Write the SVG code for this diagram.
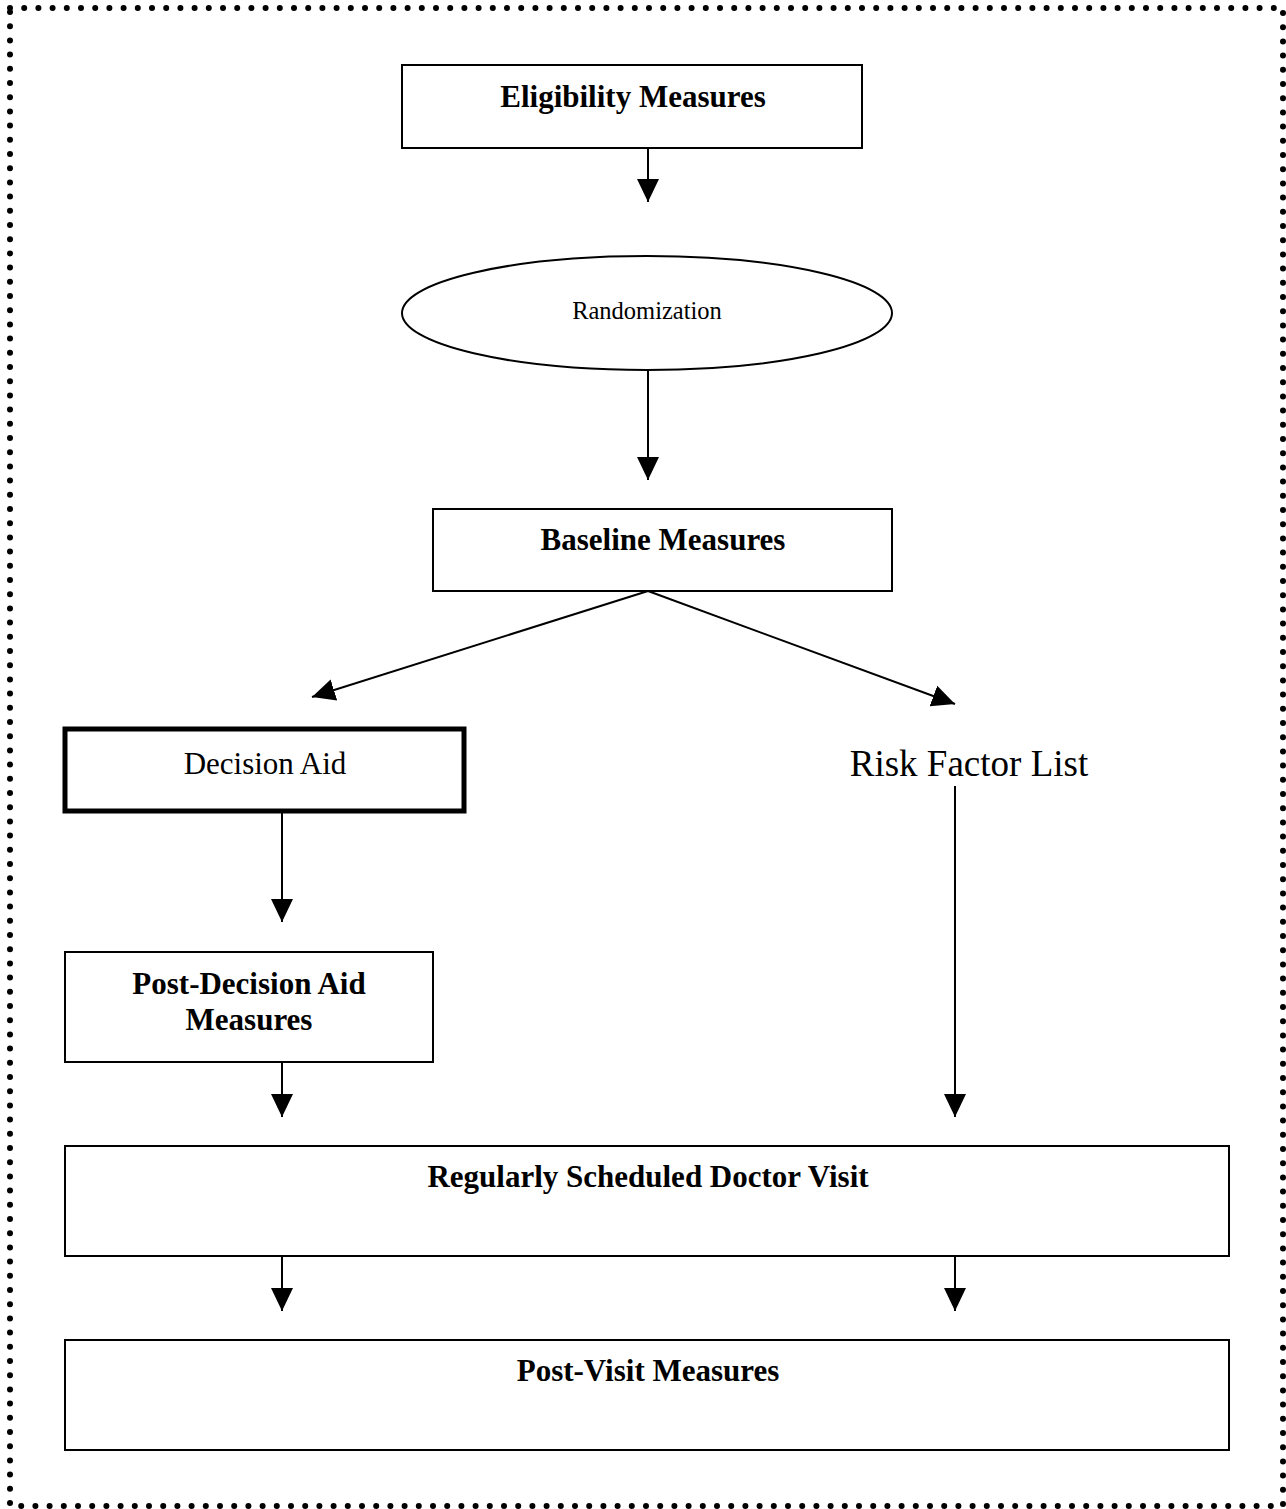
<svg xmlns="http://www.w3.org/2000/svg" width="1286" height="1509" viewBox="0 0 1286 1509">
<style>
.box{fill:#fff;stroke:#000;stroke-width:2}
.thick{fill:#fff;stroke:#000;stroke-width:5}
.b{font-family:"Liberation Serif","Times New Roman",serif;font-weight:bold;font-size:31px;text-anchor:middle;fill:#000}
.r{font-family:"Liberation Serif","Times New Roman",serif;font-size:31px;text-anchor:middle;fill:#000}
.conn{stroke:#000;stroke-width:2;fill:none;marker-end:url(#ah)}
</style>
<defs>
<marker id="ah" markerUnits="userSpaceOnUse" markerWidth="24" markerHeight="24" viewBox="0 0 24 24" refX="23" refY="12" orient="auto">
<path d="M0,1 L23,12 L0,23 Z" fill="#000"/>
</marker>
</defs>
<rect width="1286" height="1509" fill="#fff"/>
<rect id="border" x="10" y="8" width="1273" height="1498" fill="none" stroke="#000" stroke-width="6" stroke-linecap="round" stroke-dasharray="0 14.2"/>
<g id="eligibility"><rect class="box" x="402" y="65" width="460" height="83"/><text class="b" x="633" y="107">Eligibility Measures</text></g>
<g id="randomization"><ellipse class="box" cx="647" cy="313" rx="245" ry="57"/><text class="r" x="647" y="319" style="font-size:24.5px">Randomization</text></g>
<g id="baseline"><rect class="box" x="433" y="509" width="459" height="82"/><text class="b" x="663" y="550">Baseline Measures</text></g>
<g id="decision-aid"><rect class="thick" x="65" y="729" width="399" height="82"/><text class="r" x="265" y="774">Decision Aid</text></g>
<g id="risk-factor"><text class="r" x="969" y="776" style="font-size:37px">Risk Factor List</text></g>
<g id="post-decision"><rect class="box" x="65" y="952" width="368" height="110"/><text class="b" x="249" y="994">Post-Decision Aid</text><text class="b" x="249" y="1030">Measures</text></g>
<g id="doctor-visit"><rect class="box" x="65" y="1146" width="1164" height="110"/><text class="b" x="648" y="1187">Regularly Scheduled Doctor Visit</text></g>
<g id="post-visit"><rect class="box" x="65" y="1340" width="1164" height="110"/><text class="b" x="648" y="1381">Post-Visit Measures</text></g>
<g id="connectors">
<line class="conn" x1="648" y1="148" x2="648" y2="202"/>
<line class="conn" x1="648" y1="370" x2="648" y2="480"/>
<line class="conn" x1="648" y1="591" x2="312" y2="697"/>
<line class="conn" x1="648" y1="591" x2="955" y2="704"/>
<line class="conn" x1="282" y1="812" x2="282" y2="922"/>
<line class="conn" x1="955" y1="786" x2="955" y2="1117"/>
<line class="conn" x1="282" y1="1062" x2="282" y2="1117"/>
<line class="conn" x1="282" y1="1256" x2="282" y2="1311"/>
<line class="conn" x1="955" y1="1256" x2="955" y2="1311"/>
</g>
</svg>
